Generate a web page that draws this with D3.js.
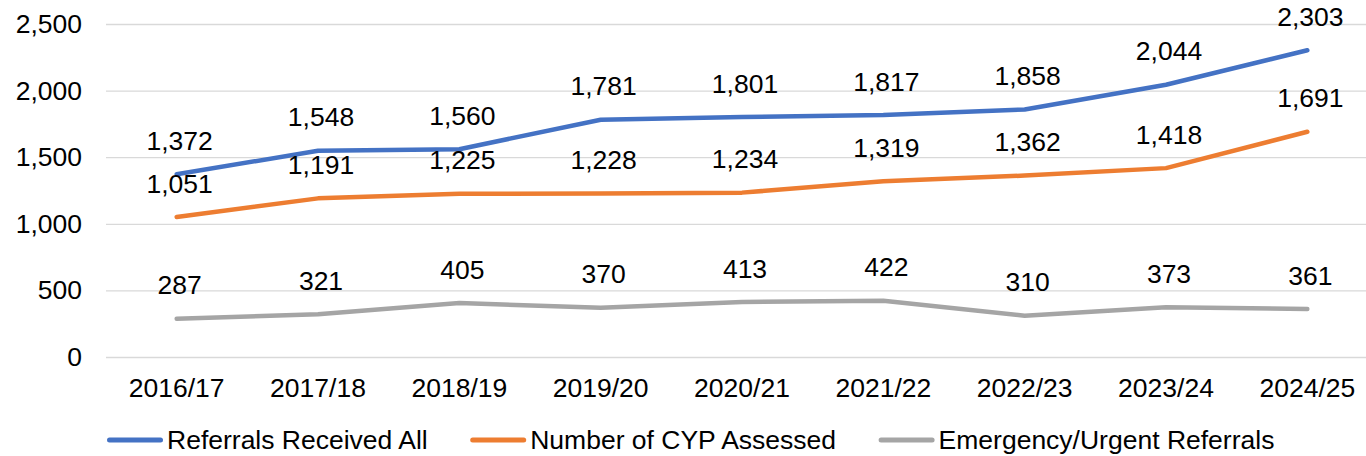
<!DOCTYPE html>
<html>
<head>
<meta charset="utf-8">
<script src="https://cdn.jsdelivr.net/npm/d3@7"></script>
<style>
  body { margin: 0; background: #fff; }
  svg { display: block; font-family: "Liberation Sans", Arial, sans-serif; }
</style>
</head>
<body>
<svg id="chart"></svg>
<script>
// data
let years = ['2016/17', '2017/18', '2018/19', '2019/20', '2020/21', '2021/22', '2022/23', '2023/24', '2024/25']
let referrals = [1372, 1548, 1560, 1781, 1801, 1817, 1858, 2044, 2303]
let assessed = [1051, 1191, 1225, 1228, 1234, 1319, 1362, 1418, 1691]
let urgent = [287, 321, 405, 370, 413, 422, 310, 373, 361]
let yTicks = [0, 500, 1000, 1500, 2000, 2500]

let series = [
    { name: 'Referrals Received All', values: referrals, color: '#4472C4' },
    { name: 'Number of CYP Assessed', values: assessed, color: '#ED7D31' },
    { name: 'Emergency/Urgent Referrals', values: urgent, color: '#A5A5A5' }
]

let width = 1366, height = 456
let plotLeft = 106, plotTop = 24, plotBottom = 357
let fontSize = 26.5

let svg = d3.select('#chart').attr('width', width).attr('height', height)

let x = d3.scaleBand().domain(years).range([plotLeft, 1378]).padding(0)
let cx = d => x(d) + x.bandwidth() / 2
let y = d3.scaleLinear().domain([0, 2500]).range([plotBottom, plotTop])

// gridlines + y labels
let yAxis = svg.append('g')
    .attr('transform', 'translate(' + plotLeft + ',0)')
    .call(d3.axisLeft(y).tickValues(yTicks).tickFormat(d3.format(',')).tickSize(-(width - plotLeft)).tickPadding(24))
yAxis.select('.domain').remove()
yAxis.selectAll('line').attr('stroke', '#D9D9D9').attr('stroke-width', 1.3)
yAxis.selectAll('text').attr('font-size', fontSize).attr('fill', '#000')
yAxis.attr('font-family', null).attr('font-size', null)

// x labels
let xAxis = svg.append('g')
    .attr('transform', 'translate(0,' + plotBottom + ')')
    .call(d3.axisBottom(x).tickSize(0).tickPadding(21))
xAxis.select('.domain').remove()
xAxis.selectAll('text').attr('font-size', fontSize).attr('fill', '#000')
xAxis.attr('font-family', null).attr('font-size', null)

// lines
let line = d3.line().x((d, i) => cx(years[i])).y(d => y(d))
svg.selectAll('path.series')
    .data(series)
    .enter()
    .append('path')
    .attr('class', 'series')
    .attr('d', d => line(d.values))
    .attr('fill', 'none')
    .attr('stroke', d => d.color)
    .attr('stroke-width', 4.5)
    .attr('stroke-linecap', 'round')
    .attr('stroke-linejoin', 'round')

// data labels above each point
series.forEach(s => {
    svg.append('g').selectAll('text')
        .data(s.values)
        .enter()
        .append('text')
        .attr('x', (d, i) => cx(years[i]) + 3)
        .attr('y', d => y(d) - 24.4)
        .attr('text-anchor', 'middle')
        .attr('font-size', fontSize)
        .attr('fill', '#000')
        .text(d => d3.format(',')(d))
})

// legend
let legend = svg.append('g').attr('transform', 'translate(0,440)')
let lx = 107
series.forEach(s => {
    let g = legend.append('g').attr('transform', 'translate(' + lx + ',0)')
    g.append('line')
        .attr('x1', 2.5).attr('x2', 53.5)
        .attr('stroke', s.color).attr('stroke-width', 5).attr('stroke-linecap', 'round')
    let t = g.append('text')
        .attr('x', 60)
        .attr('y', 9.3)
        .attr('font-size', fontSize)
        .attr('fill', '#000')
        .text(s.name)
    lx += 60 + t.node().getComputedTextLength() + 42.5
})
</script>
</body>
</html>
